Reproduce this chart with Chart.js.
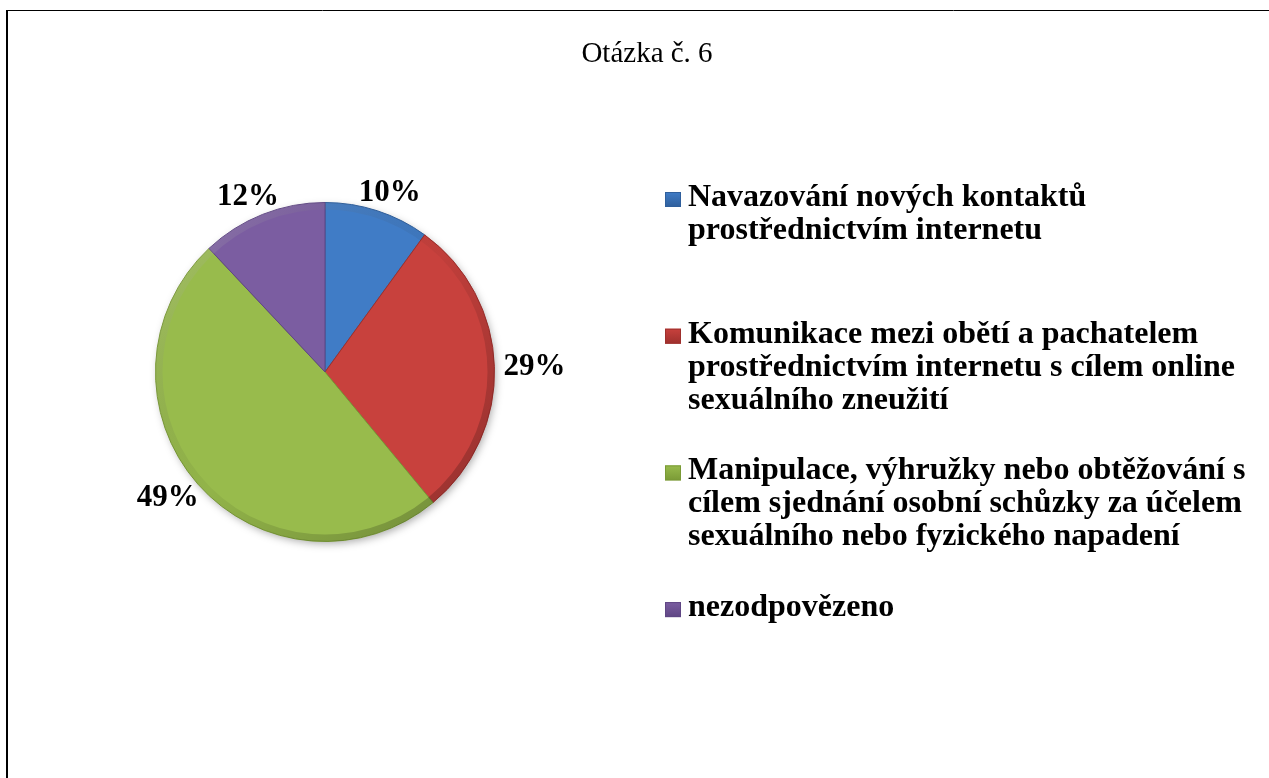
<!DOCTYPE html>
<html>
<head>
<meta charset="utf-8">
<script src="https://cdn.jsdelivr.net/npm/chart.js@4"></script>
<style>
  html, body { margin: 0; padding: 0; background: #fff; }
  #wrap { width: 1269px; height: 778px; position: relative; }
</style>
</head>
<body>
<div id="wrap"><canvas id="graf" width="1269" height="778"></canvas></div>
<script>
// data grafu
const nadpis = "Otázka č. 6";
const kategorie = [
  ["Navazování nových kontaktů", "prostřednictvím internetu"],
  ["Komunikace mezi obětí a pachatelem", "prostřednictvím internetu s cílem online", "sexuálního zneužití"],
  ["Manipulace, výhružky nebo obtěžování s", "cílem sjednání osobní schůzky za účelem", "sexuálního nebo fyzického napadení"],
  ["nezodpovězeno"]
];
const hodnoty = [10, 29, 49, 12]; // procenta
const barvy = ["#407cc6", "#c8413d", "#98bb4c", "#7b5da1"];
const okraje = ["#2f5f9c", "#9e302d", "#7a9a36", "#5f4684"];

const serif = "'Liberation Serif', 'Times New Roman', serif";

// ramecek, nadpis a legenda
const kresba = {
  id: "kresba",
  beforeDraw(chart) {
    const ctx = chart.ctx;
    ctx.save();
    ctx.fillStyle = "#fff";
    ctx.fillRect(0, 0, chart.width, chart.height);
    ctx.strokeStyle = "#000";
    ctx.lineWidth = 1;
    ctx.beginPath();
    ctx.moveTo(7, 10.5); ctx.lineTo(chart.width, 10.5);
    ctx.stroke();
    ctx.lineWidth = 2;
    ctx.beginPath();
    ctx.moveTo(7, 10); ctx.lineTo(7, chart.height);
    ctx.stroke();

    ctx.fillStyle = "#000";
    ctx.font = "29px " + serif;
    ctx.textAlign = "center";
    ctx.textBaseline = "alphabetic";
    ctx.fillText(nadpis, 647, 62);
    ctx.restore();
  },
  beforeDatasetsDraw(chart) {
    // stin pod kolacem
    const arc = chart.getDatasetMeta(0).data[0];
    const ctx = chart.ctx;
    ctx.save();
    ctx.shadowColor = "rgba(0,0,0,0.35)";
    ctx.shadowBlur = 8;
    ctx.shadowOffsetX = 2;
    ctx.shadowOffsetY = 3;
    ctx.fillStyle = "#888";
    ctx.beginPath();
    ctx.arc(arc.x, arc.y, arc.outerRadius - 1, 0, Math.PI * 2);
    ctx.fill();
    ctx.restore();
  },
  afterDatasetsDraw(chart) {
    const ctx = chart.ctx;
    const meta = chart.getDatasetMeta(0);
    const a0 = meta.data[0];
    const R = a0.outerRadius;

    // jemny efekt zkoseni na okraji
    ctx.save();
    ctx.beginPath();
    ctx.arc(a0.x, a0.y, R, 0, Math.PI * 2);
    ctx.clip();
    const g = ctx.createLinearGradient(a0.x - R, a0.y - R, a0.x + R, a0.y + R);
    g.addColorStop(0, "rgba(255,255,255,0.22)");
    g.addColorStop(0.5, "rgba(0,0,0,0.04)");
    g.addColorStop(1, "rgba(0,0,0,0.28)");
    ctx.strokeStyle = g;
    ctx.lineWidth = 8;
    ctx.beginPath();
    ctx.arc(a0.x, a0.y, R - 3, 0, Math.PI * 2);
    ctx.stroke();
    ctx.restore();

    // popisky procent vne kolace
    ctx.save();
    ctx.font = "bold 31px " + serif;
    ctx.fillStyle = "#000";
    ctx.textAlign = "center";
    ctx.textBaseline = "middle";
    meta.data.forEach((arc, i) => {
      const txt = hodnoty[i] + "%";
      const w = ctx.measureText(txt).width;
      const h = 22;
      const mid = (arc.startAngle + arc.endAngle) / 2;
      const ux = Math.cos(mid), uy = Math.sin(mid);
      const cx = arc.x + (R + 9) * ux + ux * w / 2;
      const cy = arc.y + (R + 9) * uy + uy * h / 2;
      ctx.fillText(txt, cx, cy + 1);
    });
    ctx.restore();

    // legenda
    ctx.save();
    ctx.font = "bold 32px " + serif;
    ctx.textAlign = "left";
    ctx.textBaseline = "alphabetic";
    const lx = 688, ly = 206, slot = 136.7, lh = 33;
    kategorie.forEach((radky, i) => {
      const by = ly + i * slot;
      const my = by - 14;
      const mg = ctx.createLinearGradient(0, my, 0, my + 15);
      mg.addColorStop(0, barvy[i]);
      mg.addColorStop(1, okraje[i]);
      ctx.fillStyle = mg;
      ctx.fillRect(665, my, 16, 15);
      ctx.strokeStyle = okraje[i];
      ctx.lineWidth = 1;
      ctx.strokeRect(665.5, my + 0.5, 15, 14);
      ctx.fillStyle = "#000";
      radky.forEach((r, j) => ctx.fillText(r, lx, by + j * lh));
    });
    ctx.restore();
  }
};

const data = {
  labels: kategorie,
  datasets: [{
    data: hodnoty,
    backgroundColor: barvy,
    borderColor: okraje,
    borderWidth: 1
  }]
};

const config = {
  type: "pie",
  data: data,
  options: {
    responsive: false,
    animation: false,
    layout: {
      padding: { left: 155, top: 202, right: 774, bottom: 236 }
    },
    plugins: {
      legend: { display: false },
      title: { display: false },
      tooltip: { enabled: false }
    }
  },
  plugins: [kresba]
};

let context = document.getElementById("graf").getContext("2d");
let chart = new Chart(context, config);
</script>
</body>
</html>
